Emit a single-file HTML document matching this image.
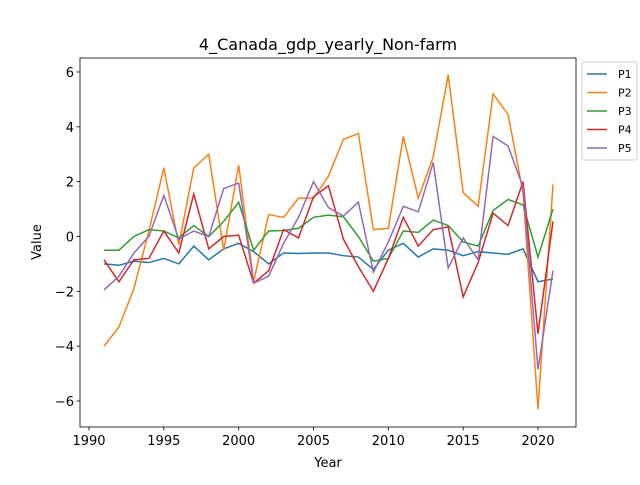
<!DOCTYPE html>
<html><head><meta charset="utf-8"><style>
body{margin:0;background:#fff;font-family:"Liberation Sans","DejaVu Sans",sans-serif;}
svg text{font-family:"DejaVu Sans","Liberation Sans",sans-serif;}
</style></head><body>
<svg id="c" width="640" height="480">
<rect width="640" height="480" fill="#fff"/>
</svg>
<script>
const years=[];for(let y=1991;y<=2021;y++)years.push(y);
const p1=[-1.0,-1.05,-0.9,-0.95,-0.8,-1.0,-0.35,-0.85,-0.45,-0.25,-0.55,-1.0,-0.6,-0.62,-0.6,-0.6,-0.7,-0.75,-1.2,-0.5,-0.25,-0.75,-0.45,-0.5,-0.7,-0.55,-0.6,-0.65,-0.45,-1.65,-1.55];
const p2=[-4.0,-3.3,-1.9,0.2,2.5,-0.3,2.5,3.0,-0.5,2.6,-1.65,0.8,0.7,1.4,1.4,2.2,3.55,3.75,0.25,0.3,3.65,1.4,2.9,5.9,1.6,1.1,5.2,4.45,1.6,-6.3,1.9];
const p3=[-0.5,-0.5,0.0,0.25,0.2,-0.05,0.4,0.0,0.55,1.25,-0.5,0.2,0.22,0.3,0.7,0.78,0.72,0.0,-0.9,-0.8,0.2,0.15,0.6,0.4,-0.2,-0.35,0.95,1.35,1.15,-0.75,1.0];
const p4=[-0.85,-1.65,-0.85,-0.8,0.2,-0.6,1.55,-0.45,0.0,0.05,-1.7,-1.25,0.25,-0.05,1.45,1.85,-0.1,-1.1,-2.0,-0.8,0.7,-0.35,0.25,0.35,-2.2,-0.95,0.85,0.4,2.0,-3.55,0.55];
const p5=[-1.95,-1.45,-0.6,0.0,1.5,-0.1,0.2,0.0,1.75,1.95,-1.7,-1.45,-0.25,0.7,2.0,1.05,0.75,1.25,-1.3,-0.2,1.1,0.9,2.7,-1.15,-0.05,-0.85,3.65,3.3,1.8,-4.85,-1.25];
const seriesNames=["P1","P2","P3","P4","P5"];
const xTicks=[1990,1995,2000,2005,2010,2015,2020];
const yTicks=[-6,-4,-2,0,2,4,6];
const colors=["#1f77b4","#ff7f0e","#2ca02c","#d62728","#9467bd"];
const L=80,R=576,T=58,B=427;
const xs=v=>89+(v-1990)*(538-89)/30;
const ys=v=>236.5-v*(401-72)/12;
const svg=document.getElementById('c');const NS='http://www.w3.org/2000/svg';
function mk(t,a,p){const e=document.createElementNS(NS,t);for(const k in a)e.setAttribute(k,a[k]);(p||svg).appendChild(e);return e;}
const data=[p1,p2,p3,p4,p5];
data.forEach((s,i)=>{
 const pl=mk('polyline',{points:s.map((v,j)=>xs(years[j])+','+ys(v)).join(' '),fill:'none',stroke:colors[i],'stroke-width':1.5});
 
 
});
const fr=mk('rect',{x:L,y:T,width:R-L,height:B-T,fill:'none',stroke:'#000','stroke-width':0.8});


xTicks.forEach(t=>{const x=xs(t);mk('line',{x1:x,x2:x,y1:B,y2:B+3.5,stroke:'#000','stroke-width':0.8});
 const tx=mk('text',{x:x,y:B+18,'text-anchor':'middle','font-size':13});tx.textContent=t;
 
 });
yTicks.forEach(t=>{const y=ys(t);mk('line',{x1:L-3.5,x2:L,y1:y,y2:y,stroke:'#000','stroke-width':0.8});
 const tx=mk('text',{x:L-6,y:y+5,'text-anchor':'end','font-size':13});tx.textContent=t<0?'\u2212'+(-t):t;
 
 });
let e=mk('text',{x:328,y:50,'text-anchor':'middle','font-size':16});e.textContent='4_Canada_gdp_yearly_Non-farm';


e=mk('text',{x:328,y:467,'text-anchor':'middle','font-size':13});e.textContent='Year';


e=mk('text',{x:0,y:0,'text-anchor':'middle','font-size':13,transform:'translate(41,242) rotate(-90)'});e.textContent='Value';


const lg=mk('g',{});


mk('rect',{x:582,y:62,width:55,height:98,fill:'#fff',stroke:'#ccc',rx:2},lg);
seriesNames.forEach((n,i)=>{const y=74+i*18.5;
 mk('line',{x1:587,x2:607,y1:y,y2:y,stroke:colors[i],'stroke-width':1.5},lg);
 const t=mk('text',{x:618,y:y+4,'font-size':11},lg);t.textContent=n;
 
 });
</script>
</body></html>
